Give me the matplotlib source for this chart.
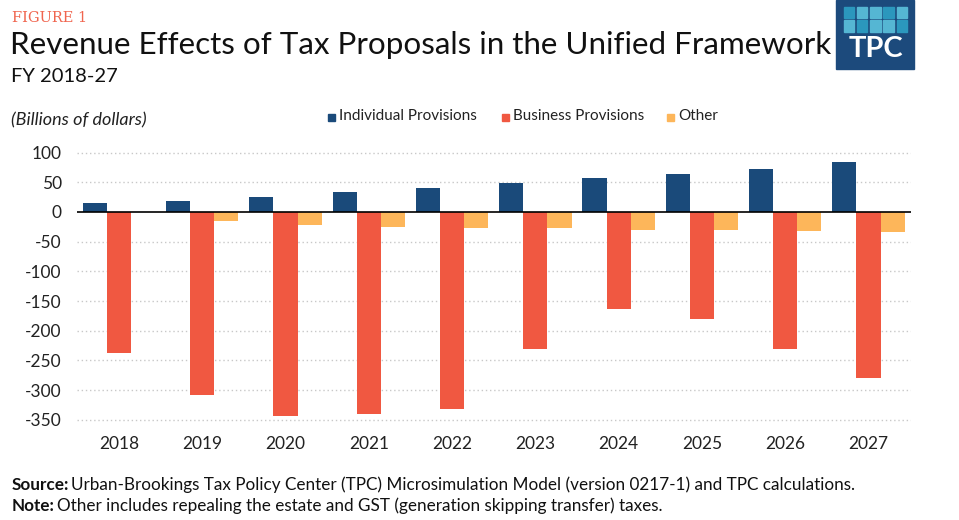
import matplotlib
matplotlib.use("Agg")
import matplotlib.pyplot as plt
from matplotlib.patches import Rectangle
import numpy as np

years = ["2018", "2019", "2020", "2021", "2022", "2023", "2024", "2025", "2026", "2027"]
individual = [15, 19, 26, 34, 41, 48, 57, 64, 72, 84]
business = [-238, -308, -344, -340, -331, -231, -163, -181, -231, -279]
other = [0, -15, -22, -26, -27, -27, -30, -31, -32, -34]
yticks = [100, 50, 0, -50, -100, -150, -200, -250, -300, -350]

C_BLUE = "#1a4a7a"
C_RED = "#f05841"
C_ORANGE = "#fdb65a"
TXT = "#222222"
FONT = "Lato"

W, H = 959, 520
fig = plt.figure(figsize=(W / 100, H / 100), dpi=100)

def fx(px):
    return px / W

def fy(py):
    return 1 - py / H

ax = fig.add_axes([fx(77), fy(424.6), fx(911 - 77), 274.4 / H])
x = np.arange(len(years))
bw = 0.29
ax.bar(x - bw, individual, bw, color=C_BLUE, zorder=3)
ax.bar(x, business, bw, color=C_RED, zorder=3)
ax.bar(x + bw, other, bw, color=C_ORANGE, zorder=3)
ax.axhline(0, color="black", lw=1.2, zorder=4)

ax.set_xlim(-0.504, 9.51)
ax.set_ylim(-358, 104)
ax.set_yticks(yticks)
ax.set_yticklabels([str(v) for v in yticks], fontfamily=FONT, fontsize=12.5, color=TXT)
ax.set_xticks(x)
ax.set_xticklabels(years, fontfamily=FONT, fontsize=12.5, color=TXT)
ax.tick_params(axis="both", length=0)
ax.tick_params(axis="y", pad=11)
ax.tick_params(axis="x", pad=8)
for s in ax.spines.values():
    s.set_visible(False)
for v in yticks:
    if v != 0:
        ax.axhline(v, color="#c8c8c8", lw=1.0, ls=(0, (1, 2)), zorder=1)

# Header texts
fig.text(fx(12), fy(18), "FIGURE 1", fontfamily="DejaVu Serif", fontsize=10.5,
         color="#f0654f", va="center", ha="left")
fig.text(fx(10), fy(45), "Revenue Effects of Tax Proposals in the Unified Framework",
         fontfamily=FONT, fontsize=22.6, color="#111111", va="center", ha="left")
fig.text(fx(11), fy(77), "FY 2018-27", fontfamily=FONT, fontsize=14.5, color="#111111",
         va="center", ha="left")
fig.text(fx(11), fy(120), "(Billions of dollars)", fontfamily=FONT, fontsize=13,
         style="italic", color=TXT, va="center", ha="left")

# Legend
legend_items = [("Individual Provisions", C_BLUE, 328), ("Business Provisions", C_RED, 502),
                ("Other", C_ORANGE, 667)]
for label, col, px in legend_items:
    fig.patches.append(Rectangle((fx(px), fy(120.5)), fx(7), 7 / H, transform=fig.transFigure,
                                 color=col, figure=fig))
    fig.text(fx(px + 11), fy(116.5), label, fontfamily=FONT, fontsize=11, color=TXT,
             va="center", ha="left")

# Logo
fig.patches.append(Rectangle((fx(836), fy(69)), fx(78), 69 / H, transform=fig.transFigure,
                             color="#1c4a7c", figure=fig))
sq_cols = [["#2b97bd", "#55b6d3", "#55b6d3", "#2b97bd", "#55b6d3"],
           ["#55b6d3", "#2b97bd", "#55b6d3", "#55b6d3", "#2b97bd"]]
for r, rowy in enumerate([7.0, 20.5]):
    for c in range(5):
        fig.patches.append(Rectangle((fx(843.5 + c * 13.3), fy(rowy + 11)), fx(10.5), 11 / H,
                                     transform=fig.transFigure, color=sq_cols[r][c], figure=fig))
fig.text(fx(875.5), fy(49), "TPC", fontfamily=FONT, fontsize=21, fontweight="bold",
         color="white", va="center", ha="center")

# Footer
fig.canvas.draw()
rend = fig.canvas.get_renderer()
for py, bold, rest in [(485, "Source:", "Urban-Brookings Tax Policy Center (TPC) Microsimulation Model (version 0217-1) and TPC calculations."),
                       (506, "Note:", "Other includes repealing the estate and GST (generation skipping transfer) taxes.")]:
    t = fig.text(fx(12), fy(py), bold, fontfamily=FONT, fontsize=12.3, fontweight="bold",
                 color="#111111", va="center", ha="left")
    bb = t.get_window_extent(renderer=rend)
    fig.text(bb.x1 / W + fx(2), fy(py), rest, fontfamily=FONT, fontsize=12.3,
             color="#111111", va="center", ha="left")

fig.savefig("out.png", dpi=100)
